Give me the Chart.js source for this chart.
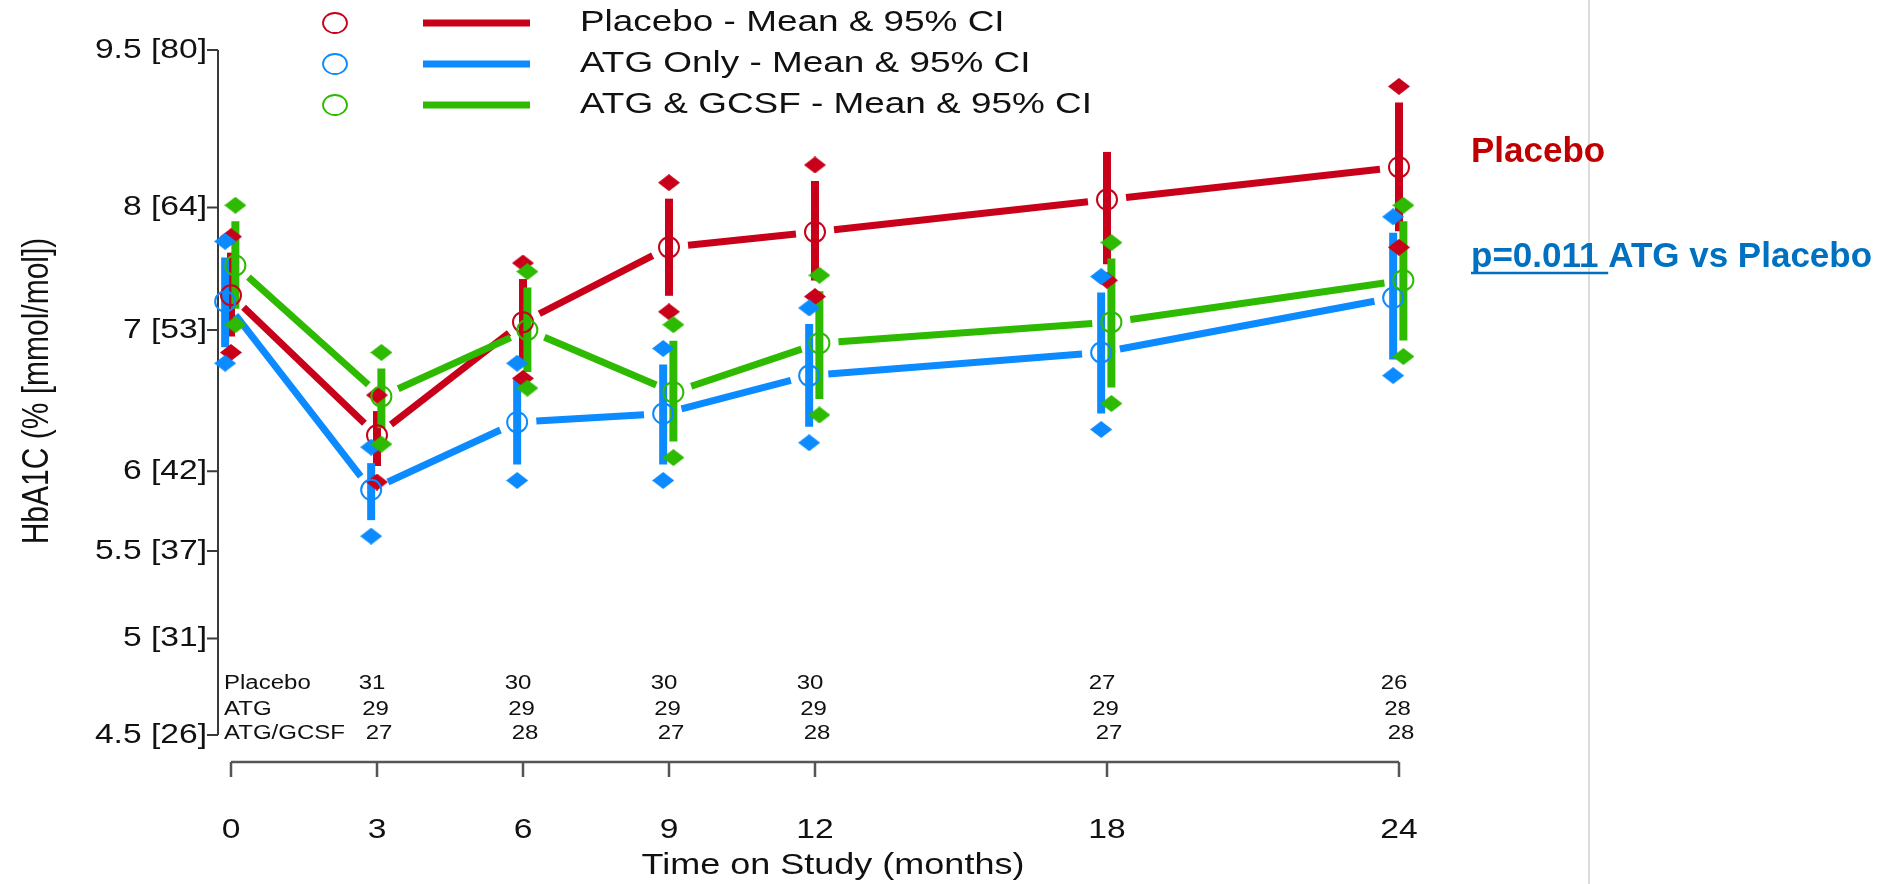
<!DOCTYPE html>
<html>
<head>
<meta charset="utf-8">
<title>HbA1C over time</title>
<script src="https://cdn.jsdelivr.net/npm/chart.js@4.4.1/dist/chart.umd.min.js"></script>
<style>
  html, body { margin: 0; padding: 0; background: #fff; }
  canvas { display: block; }
</style>
</head>
<body>
<canvas id="myChart" width="1891" height="884"></canvas>
<script>
const months = [0, 3, 6, 9, 12, 18, 24]

const placeboMean = [7.27, 6.24, 7.06, 7.66, 7.79, 8.07, 8.36]
const placeboLow = [6.83, 5.93, 6.64, 7.14, 7.26, 7.39, 7.66]
const placeboHigh = [7.75, 6.52, 7.53, 8.22, 8.38, 8.65, 9.13]

const atgMean = [7.22, 5.88, 6.33, 6.39, 6.66, 6.83, 7.25]
const atgLow = [6.75, 5.59, 5.94, 5.94, 6.19, 6.28, 6.66]
const atgHigh = [7.71, 6.16, 6.75, 6.86, 7.17, 7.42, 7.92]

const gcsfMean = [7.51, 6.51, 7.00, 6.54, 6.90, 7.06, 7.39]
const gcsfLow = [7.04, 6.18, 6.57, 6.09, 6.38, 6.46, 6.80]
const gcsfHigh = [8.02, 6.83, 7.46, 7.04, 7.43, 7.70, 8.02]

const yTicks = [4.5, 5, 5.5, 6, 7, 8, 9.5]
const yTickLabels = ['4.5 [26]', '5 [31]', '5.5 [37]', '6 [42]', '7 [53]', '8 [64]', '9.5 [80]']
const xTicks = [0, 3, 6, 9, 12, 18, 24]

const riskMonths = [3, 6, 9, 12, 18, 24]
const riskLabels = ['Placebo', 'ATG', 'ATG/GCSF']
const riskPlacebo = [31, 30, 30, 30, 27, 26]
const riskAtg = [29, 29, 29, 29, 29, 28]
const riskGcsf = [27, 28, 27, 28, 27, 28]

const legendLabels = ['Placebo - Mean & 95% CI', 'ATG Only - Mean & 95% CI', 'ATG & GCSF - Mean & 95% CI']

const RED = '#C8001A'
const BLUE = '#0B8BFF'
const GREEN = '#2DBA00'
const INK = '#111'
const FONT = '"Liberation Sans", Arial, sans-serif'
const STRETCH = 1.2 // the original figure is pulled wider than tall

// drawn red, blue, green (green ends on top)
const series = [
  { mean: placeboMean, low: placeboLow, high: placeboHigh, color: RED, dodge: 0, order: 3, noHighMarker: [18] },
  { mean: atgMean, low: atgLow, high: atgHigh, color: BLUE, dodge: -0.12, order: 2, noHighMarker: [] },
  { mean: gcsfMean, low: gcsfLow, high: gcsfHigh, color: GREEN, dodge: 0.09, order: 1, noHighMarker: [] },
]

function makeDiamond(color) {
  const c = document.createElement('canvas')
  c.width = 22
  c.height = 17
  const g = c.getContext('2d')
  g.fillStyle = color
  g.beginPath()
  g.moveTo(11, 0)
  g.lineTo(22, 8.5)
  g.lineTo(11, 17)
  g.lineTo(0, 8.5)
  g.closePath()
  g.fill()
  return c
}

function drawText(ctx, text, x, y, o) {
  ctx.save()
  ctx.translate(x, y)
  ctx.scale(o.stretch || 1, 1)
  if (o.rotate) ctx.rotate(o.rotate)
  ctx.font = (o.weight || 'normal') + ' ' + o.size + 'px ' + FONT
  ctx.fillStyle = o.color || INK
  ctx.textAlign = o.align || 'left'
  ctx.textBaseline = o.baseline || 'middle'
  ctx.fillText(text, 0, 0)
  ctx.restore()
}

// R type="b" style: segment stops short of both points
function gappedSegment(ctx, x1, y1, x2, y2, gap) {
  const dx = x2 - x1
  const dy = y2 - y1
  const len = Math.hypot(dx / STRETCH, dy)
  if (len <= 2 * gap) return
  const t = gap / len
  ctx.beginPath()
  ctx.moveTo(x1 + dx * t, y1 + dy * t)
  ctx.lineTo(x2 - dx * t, y2 - dy * t)
  ctx.stroke()
}

const datasets = []
series.forEach(s => {
  datasets.push({
    data: months.map((m, i) => ({ x: m + s.dodge, y: s.mean[i] })),
    pointStyle: 'circle',
    pointRadius: 10,
    pointBorderWidth: 2,
    pointBorderColor: s.color,
    pointBackgroundColor: 'rgba(0,0,0,0)',
    showLine: false,
    clip: false,
    order: s.order,
  })
  const diamond = makeDiamond(s.color)
  datasets.push({
    data: months.map((m, i) => ({ x: m + s.dodge, y: s.low[i] })),
    pointStyle: diamond,
    pointRadius: 10,
    showLine: false,
    clip: false,
    order: s.order,
  })
  datasets.push({
    data: months.map((m, i) => ({ x: m + s.dodge, y: s.high[i] })),
    pointStyle: diamond,
    pointRadius: months.map(m => (s.noHighMarker.includes(m) ? 0 : 10)),
    showLine: false,
    clip: false,
    order: s.order,
  })
})

const rPlot = {
  id: 'rPlot',
  beforeDraw(chart) {
    const ctx = chart.ctx
    ctx.save()
    ctx.fillStyle = '#fff'
    ctx.fillRect(0, 0, chart.width, chart.height)
    ctx.restore()
  },
  beforeDatasetsDraw(chart) {
    const ctx = chart.ctx
    const xs = chart.scales.x
    const ys = chart.scales.y
    const area = chart.chartArea
    ctx.save()

    // axes, R style (detached)
    const axisX = area.left - 13
    const axisY = area.bottom + 27
    ctx.strokeStyle = '#3a3a3a'
    ctx.lineWidth = 2
    ctx.beginPath()
    ctx.moveTo(axisX, ys.getPixelForValue(yTicks[yTicks.length - 1]))
    ctx.lineTo(axisX, ys.getPixelForValue(yTicks[0]))
    yTicks.forEach(v => {
      const py = ys.getPixelForValue(v)
      ctx.moveTo(axisX - 11, py)
      ctx.lineTo(axisX, py)
    })
    ctx.stroke()
    ctx.strokeStyle = '#555'
    ctx.lineWidth = 2.5
    ctx.beginPath()
    ctx.moveTo(xs.getPixelForValue(xTicks[0]), axisY)
    ctx.lineTo(xs.getPixelForValue(xTicks[xTicks.length - 1]), axisY)
    xTicks.forEach(v => {
      const px = xs.getPixelForValue(v)
      ctx.moveTo(px, axisY)
      ctx.lineTo(px, axisY + 15)
    })
    ctx.stroke()

    yTicks.forEach((v, i) => {
      drawText(ctx, yTickLabels[i], axisX - 11, ys.getPixelForValue(v), { size: 28, align: 'right', stretch: STRETCH })
    })
    xTicks.forEach(v => {
      drawText(ctx, String(v), xs.getPixelForValue(v), axisY + 68, { size: 28, align: 'center', stretch: STRETCH })
    })

    // mean lines and CI bars
    ctx.lineCap = 'butt'
    series.forEach(s => {
      ctx.strokeStyle = s.color
      ctx.lineWidth = 7
      for (let i = 0; i < months.length - 1; i++) {
        gappedSegment(ctx,
          xs.getPixelForValue(months[i] + s.dodge), ys.getPixelForValue(s.mean[i]),
          xs.getPixelForValue(months[i + 1] + s.dodge), ys.getPixelForValue(s.mean[i + 1]), 16)
      }
      ctx.lineWidth = 8
      months.forEach((m, i) => {
        const px = xs.getPixelForValue(m + s.dodge)
        ctx.beginPath()
        ctx.moveTo(px, ys.getPixelForValue(s.high[i]) + 16)
        ctx.lineTo(px, ys.getPixelForValue(s.low[i]) - 16)
        ctx.stroke()
      })
    })
    ctx.restore()
  },
  afterDraw(chart) {
    const ctx = chart.ctx
    const xs = chart.scales.x
    const area = chart.chartArea
    ctx.save()

    // axis titles
    drawText(ctx, 'HbA1C (% [mmol/mol])', 38, 391, { size: 30, align: 'center', stretch: STRETCH, rotate: -Math.PI / 2 })
    drawText(ctx, 'Time on Study (months)', 833, 866, { size: 30, align: 'center', stretch: STRETCH })

    // numbers at risk
    const riskRows = [riskPlacebo, riskAtg, riskGcsf]
    const rowShift = [-5, -1.5, 2]
    const rowY = [683, 709, 733]
    riskRows.forEach((row, r) => {
      drawText(ctx, riskLabels[r], area.left - 7, rowY[r], { size: 20, stretch: STRETCH })
      row.forEach((n, i) => {
        drawText(ctx, String(n), xs.getPixelForValue(riskMonths[i]) + rowShift[r], rowY[r], { size: 20, align: 'center', stretch: STRETCH })
      })
    })

    // legend
    const legendY = [23, 64, 105]
    series.forEach((s, i) => {
      ctx.strokeStyle = s.color
      ctx.lineWidth = 1.8
      ctx.beginPath()
      ctx.ellipse(335, legendY[i], 12, 10, 0, 0, Math.PI * 2)
      ctx.stroke()
      ctx.lineWidth = 7
      ctx.beginPath()
      ctx.moveTo(423, legendY[i])
      ctx.lineTo(530, legendY[i])
      ctx.stroke()
      drawText(ctx, legendLabels[i], 580, legendY[i], { size: 30, stretch: 1.23 })
    })

    // slide annotations
    ctx.strokeStyle = '#dcdcdc'
    ctx.lineWidth = 2
    ctx.beginPath()
    ctx.moveTo(1589, 0)
    ctx.lineTo(1589, chart.height)
    ctx.stroke()

    drawText(ctx, 'Placebo', 1471, 162, { size: 35, weight: 'bold', color: '#C00000', baseline: 'alphabetic' })
    drawText(ctx, 'p=0.011 ATG vs Placebo', 1471, 267, { size: 35, weight: 'bold', color: '#0070C0', baseline: 'alphabetic' })
    ctx.font = 'bold 35px ' + FONT
    const uw = ctx.measureText('p=0.011 ').width
    ctx.strokeStyle = '#0070C0'
    ctx.lineWidth = 2.5
    ctx.beginPath()
    ctx.moveTo(1471, 273)
    ctx.lineTo(1471 + uw, 273)
    ctx.stroke()
    ctx.restore()
  },
}

var ctx = document.getElementById('myChart').getContext('2d')
var myChart = new Chart(ctx, {
  type: 'scatter',
  data: { datasets: datasets },
  options: {
    responsive: false,
    animation: false,
    events: [],
    layout: { padding: { left: 231, right: 492, top: 50, bottom: 149 } },
    plugins: {
      legend: { display: false },
      tooltip: { enabled: false },
    },
    scales: {
      x: { type: 'linear', min: 0, max: 24, display: false },
      y: { type: 'logarithmic', min: 4.5, max: 9.5, display: false },
    },
  },
  plugins: [rPlot],
})
</script>
</body>
</html>
